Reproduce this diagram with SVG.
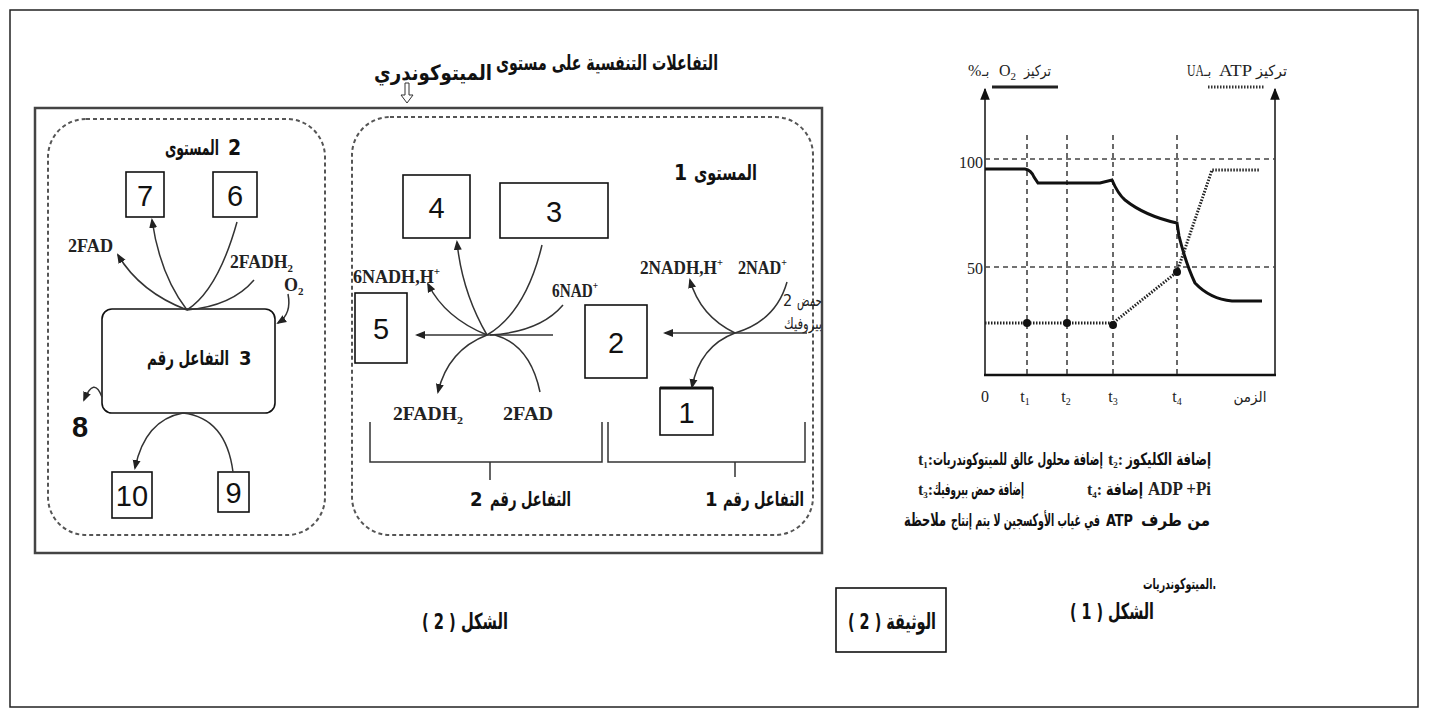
<svg xmlns="http://www.w3.org/2000/svg" width="1430" height="718" viewBox="0 0 1430 718">
<style>
.ar{font-family:"DejaVu Sans Condensed","DejaVu Sans","Liberation Sans",sans-serif;font-weight:bold;fill:#111}
.arr2{font-family:"DejaVu Sans Condensed","DejaVu Sans","Liberation Sans",sans-serif;fill:#222}
.num{font-family:"Liberation Sans Narrow","Liberation Sans",sans-serif;font-size:29px;fill:#111;text-anchor:middle}
.chem{font-family:"Liberation Serif","Times New Roman",serif;font-weight:bold;font-size:18px;fill:#222}
.gr{font-family:"Liberation Serif","Times New Roman",serif;font-size:16px;fill:#222}
.box{fill:#fff;stroke:#111;stroke-width:1.6}
.dash{fill:none;stroke:#555;stroke-width:2;stroke-dasharray:4 3}
.ln{fill:none;stroke:#333;stroke-width:1.5}
.arw{fill:none;stroke:#333;stroke-width:1.5;marker-end:url(#ah)}
.gd{fill:none;stroke:#444;stroke-width:1.6;stroke-dasharray:5 4}
.sup{font-size:11px}
</style>
<defs>
<marker id="ah" markerUnits="userSpaceOnUse" markerWidth="10" markerHeight="10" viewBox="0 0 10 10" refX="8" refY="5" orient="auto"><path d="M0,1 L10,5 L0,9 z" fill="#222"/></marker>
<marker id="ax" markerUnits="userSpaceOnUse" markerWidth="12" markerHeight="12" viewBox="0 0 10 10" refX="9" refY="5" orient="auto"><path d="M0,1 L10,5 L0,9 z" fill="#111"/></marker>
</defs>

<!-- page frame -->
<rect x="10" y="10" width="1408" height="697" fill="none" stroke="#222" stroke-width="1.5"/>

<!-- title -->
<g id="title">
<text class="ar" x="718" y="70" font-size="21" text-anchor="end" textLength="222" lengthAdjust="spacingAndGlyphs">التفاعلات التنفسية على مستوى</text>
<text class="ar" x="374" y="80" font-size="21" textLength="118" lengthAdjust="spacingAndGlyphs">الميتوكوندري</text>
<polygon points="405,83 409,83 409,95 413,95 407,103 401,95 405,95" fill="#fff" stroke="#333" stroke-width="1"/>
</g>

<!-- main rectangle -->
<rect x="35" y="108" width="787" height="445" fill="none" stroke="#444" stroke-width="2.5"/>

<!-- level 2 -->
<g id="level2">
<rect class="dash" x="48" y="119" width="277" height="416" rx="38"/>
<text class="ar" x="165" y="155" font-size="21" textLength="54" lengthAdjust="spacingAndGlyphs">المستوى</text>
<text class="ar" x="228" y="155" font-size="21">2</text>
</g>
<g id="n7"><rect class="box" x="126" y="172" width="38" height="45"/><text class="num" x="145" y="206">7</text></g>
<g id="n6"><rect class="box" x="213" y="172" width="44" height="45"/><text class="num" x="235" y="206">6</text></g>
<g id="l2labels">
<text class="chem" x="68" y="252" textLength="45" lengthAdjust="spacingAndGlyphs">2FAD</text>
<text class="chem" x="230" y="268" textLength="63" lengthAdjust="spacingAndGlyphs">2FADH<tspan class="sup" dy="4">2</tspan></text>
<text class="chem" x="284" y="291">O<tspan class="sup" dy="4">2</tspan></text>
</g>
<g id="r3"><rect class="box" x="102" y="309" width="173" height="104" rx="10"/>
<text class="ar" x="147" y="365" font-size="20" textLength="82" lengthAdjust="spacingAndGlyphs">التفاعل رقم</text>
<text class="ar" x="239" y="365" font-size="20">3</text></g>
<g id="n8"><text class="num" x="80" y="437" font-weight="bold">8</text></g>
<g id="n10"><rect class="box" x="112" y="472" width="40" height="46"/><text class="num" x="132" y="506">10</text></g>
<g id="n9"><rect class="box" x="218" y="472" width="31" height="40"/><text class="num" x="233.5" y="503">9</text></g>

<!-- level 1 -->
<g id="level1">
<rect class="dash" x="352" y="117" width="461" height="418" rx="38"/>
<text class="ar" x="674" y="180" font-size="21">1</text>
<text class="ar" x="694" y="180" font-size="21" textLength="63" lengthAdjust="spacingAndGlyphs">المستوى</text>
</g>
<g id="n4"><rect class="box" x="403" y="175" width="67" height="63"/><text class="num" x="436.5" y="218">4</text></g>
<g id="n3"><rect class="box" x="500" y="183" width="108" height="55"/><text class="num" x="554" y="222">3</text></g>
<g id="n5"><rect class="box" x="355" y="293" width="52" height="70"/><text class="num" x="381" y="339">5</text></g>
<g id="n2"><rect class="box" x="585" y="305" width="62" height="73"/><text class="num" x="616" y="353">2</text></g>
<g id="n1"><rect class="box" x="660" y="388" width="53" height="47"/><line x1="660" y1="388" x2="713" y2="388" stroke="#111" stroke-width="3"/><text class="num" x="686.5" y="423">1</text></g>
<g id="l1labels">
<text class="chem" x="353" y="283" textLength="87" lengthAdjust="spacingAndGlyphs">6NADH,H<tspan class="sup" dy="-8">+</tspan></text>
<text class="chem" x="552" y="297" textLength="46" lengthAdjust="spacingAndGlyphs">6NAD<tspan class="sup" dy="-8">+</tspan></text>
<text class="chem" x="393" y="420" textLength="70" lengthAdjust="spacingAndGlyphs" fill="#333">2FADH<tspan class="sup" dy="4">2</tspan></text>
<text class="chem" x="503" y="420" textLength="50" lengthAdjust="spacingAndGlyphs" fill="#333">2FAD</text>
<text class="chem" x="640" y="274" textLength="83" lengthAdjust="spacingAndGlyphs">2NADH,H<tspan class="sup" dy="-8">+</tspan></text>
<text class="chem" x="738" y="274" textLength="49" lengthAdjust="spacingAndGlyphs">2NAD<tspan class="sup" dy="-8">+</tspan></text>
<text class="arr2" x="783" y="306" font-size="16">2</text>
<text class="arr2" x="822" y="306" font-size="16" text-anchor="end" textLength="25" lengthAdjust="spacingAndGlyphs">حمض</text>
<text class="arr2" x="822" y="329" font-size="16" text-anchor="end" textLength="38" lengthAdjust="spacingAndGlyphs">بيروفيك</text>
</g>
<g id="rx2">
<text class="ar" x="470" y="506" font-size="20">2</text>
<text class="ar" x="490" y="506" font-size="20" textLength="81" lengthAdjust="spacingAndGlyphs">التفاعل رقم</text>
</g>
<g id="rx1">
<text class="ar" x="705" y="506" font-size="20">1</text>
<text class="ar" x="723" y="506" font-size="20" textLength="81" lengthAdjust="spacingAndGlyphs">التفاعل رقم</text>
</g>

<!-- connectors -->
<g id="connectors">
<path class="arw" d="M187,310 Q140,292 118,255"/>
<path class="arw" d="M187,310 Q160,275 152,220"/>
<path class="ln" d="M237,222 Q218,290 187,310"/>
<path class="ln" d="M254,280 Q232,306 187,310"/>
<path class="arw" d="M288,294 Q292,314 278,323"/>
<path class="arw" d="M102,397 Q94,376 84,400"/>
<path class="arw" d="M183,413 Q145,420 135,468"/>
<path class="ln" d="M233,472 Q226,418 183,413"/>

<path class="arw" d="M553,335 L417,335"/>
<path class="arw" d="M487,335 Q462,292 457,242"/>
<path class="arw" d="M487,335 Q445,318 428,284"/>
<path class="ln" d="M542,245 Q526,312 487,335"/>
<path class="ln" d="M563,305 Q540,332 490,335"/>
<path class="arw" d="M487,335 Q448,350 438,392"/>
<path class="ln" d="M540,392 Q530,345 495,335"/>

<path class="arw" d="M807,333 L665,333"/>
<path class="arw" d="M735,333 Q700,316 690,280"/>
<path class="ln" d="M787,282 Q776,321 735,333"/>
<path class="arw" d="M735,333 Q700,346 692,387"/>

<path class="ln" d="M370,422 V462 H602 V422 M490,462 V480"/>
<path class="ln" d="M608,422 V462 H805 V422 M735,462 V477"/>
</g>

<!-- graph -->
<g id="graph">
<line x1="985" y1="375" x2="985" y2="89" stroke="#111" stroke-width="1.5" marker-end="url(#ax)"/>
<line x1="1275" y1="375" x2="1275" y2="89" stroke="#111" stroke-width="1.5" marker-end="url(#ax)"/>
<line x1="984" y1="375" x2="1276" y2="375" stroke="#111" stroke-width="2.5"/>
<line class="gd" x1="985" y1="159" x2="1275" y2="159" stroke-dasharray="4 4"/>
<line class="gd" x1="985" y1="267" x2="1275" y2="267" stroke-dasharray="4 4"/>
<line class="gd" x1="1027" y1="135" x2="1027" y2="375"/>
<line class="gd" x1="1067" y1="135" x2="1067" y2="375"/>
<line class="gd" x1="1113" y1="135" x2="1113" y2="375"/>
<line class="gd" x1="1177" y1="135" x2="1177" y2="375"/>
<path d="M985,169 L1025,169 Q1031,170 1034,177 L1038,183 L1100,183 L1112,180 Q1118,194 1125,200 Q1145,216 1177,223 L1179,236 Q1186,264 1195,283 Q1210,299 1232,301 L1262,301" fill="none" stroke="#111" stroke-width="3"/>
<path d="M985,323 L1113,323 L1177,272 L1212,170 L1260,170" fill="none" stroke="#222" stroke-width="3" stroke-dasharray="1.5 1.5"/>
<circle cx="1027" cy="323" r="4" fill="#111"/>
<circle cx="1067" cy="323" r="4" fill="#111"/>
<circle cx="1113" cy="325" r="4" fill="#111"/>
<circle cx="1177" cy="272" r="4" fill="#111"/>
<line x1="992" y1="87" x2="1058" y2="87" stroke="#222" stroke-width="3"/>
<line x1="1208" y1="87" x2="1265" y2="87" stroke="#333" stroke-width="3" stroke-dasharray="1.5 1.5"/>
<text class="gr" x="968" y="76">%</text>
<text class="arr2" x="982" y="76" font-size="14">بـ</text>
<text class="gr" x="999" y="76">O<tspan font-size="11" dy="4">2</tspan></text>
<text class="arr2" x="1024" y="76" font-size="15" textLength="27" lengthAdjust="spacingAndGlyphs">تركيز</text>
<text class="gr" x="1187" y="76" textLength="17" lengthAdjust="spacingAndGlyphs">UA</text>
<text class="arr2" x="1204" y="76" font-size="14">بـ</text>
<text class="gr" x="1219" y="76" textLength="33" lengthAdjust="spacingAndGlyphs">ATP</text>
<text class="arr2" x="1256" y="76" font-size="15" textLength="31" lengthAdjust="spacingAndGlyphs">تركيز</text>
<text class="gr" x="983" y="168" text-anchor="end" font-size="17">100</text>
<text class="gr" x="983" y="274" text-anchor="end" font-size="17">50</text>
<text class="gr" x="985" y="402" text-anchor="middle" font-size="17">0</text>
<text class="gr" x="1025" y="402" text-anchor="middle">t<tspan font-size="10" dy="3">1</tspan></text>
<text class="gr" x="1066" y="402" text-anchor="middle">t<tspan font-size="10" dy="3">2</tspan></text>
<text class="gr" x="1113" y="402" text-anchor="middle">t<tspan font-size="10" dy="3">3</tspan></text>
<text class="gr" x="1177" y="402" text-anchor="middle">t<tspan font-size="10" dy="3">4</tspan></text>
<text class="arr2" x="1250" y="402" text-anchor="middle" font-size="15">الزمن</text>
</g>

<!-- legend -->
<g id="legend">
<text class="gr" x="918" y="465" font-weight="bold" font-size="15">t<tspan font-size="9" dy="3">1</tspan><tspan dy="-3">:</tspan></text>
<text class="ar" x="933" y="465" font-size="17" textLength="170" lengthAdjust="spacingAndGlyphs">إضافة محلول عالق للميتوكوندريات</text>
<text class="gr" x="1108" y="465" font-weight="bold" font-size="15">t<tspan font-size="9" dy="3">2</tspan><tspan dy="-3">:</tspan></text>
<text class="ar" x="1126" y="465" font-size="17" textLength="85" lengthAdjust="spacingAndGlyphs">إضافة الكليكوز</text>
<text class="gr" x="918" y="495" font-weight="bold" font-size="15">t<tspan font-size="9" dy="3">3</tspan><tspan dy="-3">:</tspan></text>
<text class="ar" x="933" y="495" font-size="17" textLength="91" lengthAdjust="spacingAndGlyphs">إضافة حمض بيروفيك</text>
<text class="gr" x="1087" y="495" font-weight="bold" font-size="15">t<tspan font-size="9" dy="3">4</tspan><tspan dy="-3">:</tspan></text>
<text class="ar" x="1106" y="495" font-size="17" textLength="37" lengthAdjust="spacingAndGlyphs">إضافة</text>
<text class="chem" x="1148" y="495" font-size="19" textLength="63" lengthAdjust="spacingAndGlyphs">ADP +Pi</text>
<text class="ar" x="904" y="526" font-size="18" textLength="42" lengthAdjust="spacingAndGlyphs">ملاحظة</text>
<text class="ar" x="951" y="526" font-size="17" textLength="149" lengthAdjust="spacingAndGlyphs">في غياب الأوكسجين لا يتم إنتاج</text>
<text class="ar" x="1106" y="526" font-size="15" font-family="Liberation Sans" textLength="27" lengthAdjust="spacingAndGlyphs">ATP</text>
<text class="ar" x="1141" y="526" font-size="17" textLength="69" lengthAdjust="spacingAndGlyphs">من طرف</text>
<text class="ar" x="1143" y="589" font-size="15" textLength="73" lengthAdjust="spacingAndGlyphs">الميتوكوندريات.</text>
</g>

<!-- captions -->
<g id="captions">
<text class="ar" x="465" y="629" font-size="22" text-anchor="middle" textLength="86" lengthAdjust="spacingAndGlyphs">الشكل ( 2 )</text>
<rect x="836" y="588" width="110" height="64" fill="#fff" stroke="#111" stroke-width="1.6"/>
<text class="ar" x="892" y="629" font-size="22" text-anchor="middle" textLength="88" lengthAdjust="spacingAndGlyphs">الوثيقة ( 2 )</text>
<text class="ar" x="1112" y="619" font-size="22" text-anchor="middle" textLength="84" lengthAdjust="spacingAndGlyphs">الشكل ( 1 )</text>
</g>
</svg>
